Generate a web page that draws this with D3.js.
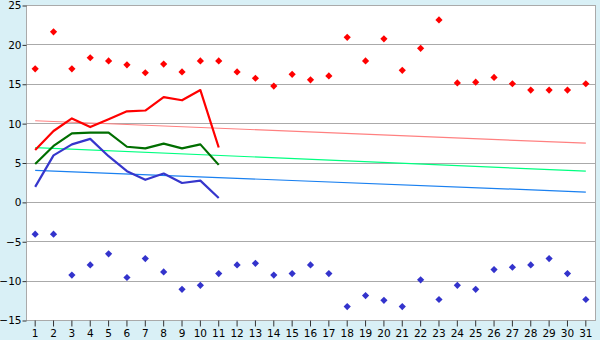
<html>
  <head>
    <meta charset="UTF-8" />
    <script src="https://d3js.org/d3.v7.min.js"></script>
    <style>
      body { margin: 0; background: #d9f0f6; }
    </style>
  </head>
  <body>
    <svg id="svg"></svg>
    <script>
      var days = d3.range(1, 32).map(String);
      var yTicks = [-15, -10, -5, 0, 5, 10, 15, 20, 25];

      // daily maximum / minimum points
      var maxTemp = [16.9, 21.6, 16.9, 18.3, 17.9, 17.4, 16.4, 17.5, 16.5, 17.9, 17.9, 16.5, 15.7, 14.7, 16.2, 15.5,
        16.0, 20.9, 17.9, 20.7, 16.7, 19.5, 23.1, 15.1, 15.2, 15.8, 15.0, 14.2, 14.2, 14.2, 15.0];
      var minTemp = [-4.1, -4.1, -9.3, -8.0, -6.6, -9.6, -7.2, -8.9, -11.1, -10.6, -9.1, -8.0, -7.8, -9.3, -9.1, -8.0,
        -9.1, -13.3, -11.9, -12.5, -13.3, -9.9, -12.4, -10.6, -11.1, -8.6, -8.3, -8.0, -7.2, -9.1, -12.4];

      // current month lines (days 1-11)
      var redLine = [6.6, 9.0, 10.6, 9.5, 10.5, 11.5, 11.6, 13.3, 12.9, 14.2, 6.9];
      var greenLine = [4.8, 7.1, 8.7, 8.8, 8.8, 7.0, 6.8, 7.4, 6.8, 7.3, 4.7];
      var blueLine = [1.9, 5.9, 7.3, 8.0, 5.8, 3.9, 2.8, 3.6, 2.4, 2.7, 0.5];

      // trend lines (start, end)
      var pinkTrend = [10.3, 7.45];
      var lightGreenTrend = [6.9, 3.9];
      var lightBlueTrend = [4.0, 1.25];

      var width = 600, height = 340;
      var mLeft = 26, mRight = 595, mTop = 5, mBottom = 320;

      var svg = d3.select("#svg").attr("width", width).attr("height", height)
        .style("display", "block");

      var x = d3.scaleBand().domain(days).range([mLeft, mRight]).padding(0);
      var y = d3.scaleLinear().domain([-15, 25]).range([mBottom, mTop]);
      var cx = (i) => x(days[i]) + x.bandwidth() / 2;

      svg.append("rect")
        .attr("x", mLeft).attr("y", mTop)
        .attr("width", mRight - mLeft).attr("height", mBottom - mTop)
        .attr("fill", "white");

      // gridlines
      svg.append("g")
        .selectAll("line")
        .data(yTicks)
        .enter()
        .append("line")
        .attr("x1", mLeft).attr("x2", mRight)
        .attr("y1", (d) => Math.round(y(d)) + 0.5)
        .attr("y2", (d) => Math.round(y(d)) + 0.5)
        .attr("stroke", "#aaaaaa");

      // frame: left and right borders
      svg.append("line").attr("x1", mLeft + 0.5).attr("x2", mLeft + 0.5)
        .attr("y1", mTop).attr("y2", mBottom + 1).attr("stroke", "#aaaaaa");
      svg.append("line").attr("x1", mRight + 0.5).attr("x2", mRight + 0.5)
        .attr("y1", mTop).attr("y2", mBottom + 1).attr("stroke", "#aaaaaa");

      // y axis
      var yAxis = svg.append("g")
        .attr("transform", "translate(" + (mLeft + 0.5) + ",0.5)")
        .call(d3.axisLeft(y).tickValues(yTicks).tickSize(4).tickPadding(1).tickFormat(d3.format("d")));
      yAxis.select(".domain").remove();

      // x axis
      var xAxis = svg.append("g")
        .attr("transform", "translate(0," + (Math.round(y(-15)) + 0.5) + ")")
        .call(d3.axisBottom(x).tickSize(6).tickPadding(3));
      xAxis.select(".domain").remove();

      svg.selectAll(".tick line").attr("stroke", "#333");
      svg.selectAll(".tick text")
        .attr("fill", "#000")
        .style("font-family", "DejaVu Sans")
        .style("font-size", "10.5px");

      // trend lines
      var trends = [
        { v: pinkTrend, c: "#ff8080" },
        { v: lightGreenTrend, c: "#00ff80" },
        { v: lightBlueTrend, c: "#1a80f0" }
      ];
      svg.append("g")
        .selectAll("line")
        .data(trends)
        .enter()
        .append("line")
        .attr("x1", cx(0)).attr("x2", cx(30))
        .attr("y1", (d) => y(d.v[0]))
        .attr("y2", (d) => y(d.v[1]))
        .attr("stroke", (d) => d.c)
        .attr("stroke-width", 1.2);

      // daily lines
      var line = d3.line().x((d, i) => cx(i)).y((d) => y(d));
      var series = [
        { v: blueLine, c: "#3636cc" },
        { v: greenLine, c: "#006e00" },
        { v: redLine, c: "#ff0000" }
      ];
      svg.append("g")
        .selectAll("path")
        .data(series)
        .enter()
        .append("path")
        .attr("d", (d) => line(d.v))
        .attr("fill", "none")
        .attr("stroke", (d) => d.c)
        .attr("stroke-width", 2.2)
        .attr("stroke-linejoin", "round");

      // diamond markers (wide, plus-like)
      var diamond = "M0,-3.6L3.6,0L0,3.6L-3.6,0Z";
      function drawPoints(values, color) {
        svg.append("g")
          .selectAll("path")
          .data(values)
          .enter()
          .append("path")
          .attr("d", diamond)
          .attr("transform", (d, i) => "translate(" + cx(i) + "," + y(d) + ")")
          .attr("fill", color);
      }
      drawPoints(maxTemp, "#ff0000");
      drawPoints(minTemp, "#3333cc");
    </script>
  </body>
</html>
